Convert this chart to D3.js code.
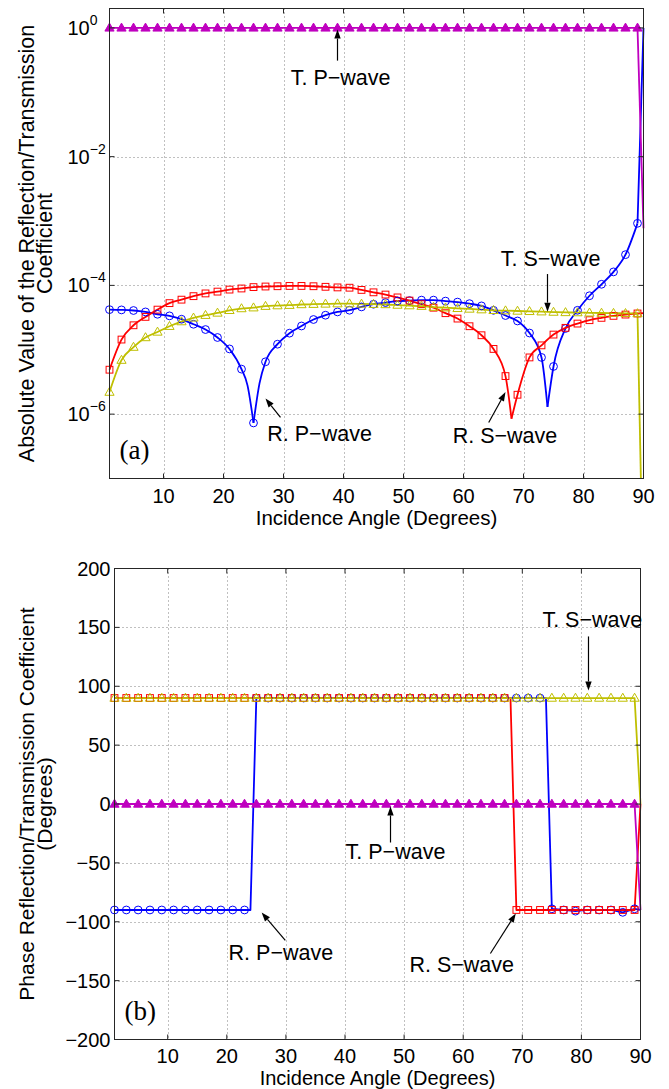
<!DOCTYPE html>
<html>
<head>
<meta charset="utf-8">
<script src="https://cdn.jsdelivr.net/npm/d3@7/dist/d3.min.js"></script>
<style>
  html, body { margin: 0; padding: 0; background: #fff; }
  svg text { font-family: "Liberation Sans", Arial, Helvetica, sans-serif; fill: #000; }
</style>
</head>
<body>
<svg id="fig" width="669" height="1089"></svg>
<script>
// ---------------------------------------------------------------------------
// Incidence angles (degrees) at which the marker symbols are plotted
const markerAngles = [1,3,5,7,9,11,13,15,17,19,21,23,25,27,29,31,33,35,37,39,41,43,45,
                      47,49,51,53,55,57,59,61,63,65,67,69,71,73,75,77,79,81,83,85,87,89];

// (a) absolute value of the coefficients at the marker angles
const ampRP = [4.2e-5,4.16e-5,4.07e-5,3.87e-5,3.56e-5,3.36e-5,2.98e-5,2.49e-5,2.06e-5,1.55e-5,
               1.03e-5,5.0e-6,7.3e-7,6.5e-6,1.22e-5,1.81e-5,2.34e-5,2.95e-5,3.44e-5,3.87e-5,
               4.11e-5,4.63e-5,5.1e-5,5.4e-5,5.7e-5,5.8e-5,5.9e-5,5.9e-5,5.7e-5,5.5e-5,
               5.2e-5,4.8e-5,4.1e-5,3.4e-5,2.8e-5,1.82e-5,7.6e-6,5.5e-6,2.14e-5,4.1e-5,
               6.9e-5,1.04e-4,1.62e-4,3.0e-4,9.2e-4];
const ampRS = [4.9e-6,1.44e-5,2.4e-5,3.24e-5,4.2e-5,5.3e-5,6.0e-5,6.8e-5,7.5e-5,8.0e-5,
               8.6e-5,8.95e-5,9.4e-5,9.6e-5,9.7e-5,9.8e-5,9.8e-5,9.7e-5,9.5e-5,9.3e-5,
               9.2e-5,8.5e-5,7.8e-5,7.2e-5,6.5e-5,5.8e-5,5.1e-5,4.5e-5,3.7e-5,3.05e-5,
               2.32e-5,1.68e-5,1.03e-5,3.9e-6,2.0e-6,7.6e-6,1.17e-5,1.72e-5,2.19e-5,2.55e-5,
               2.88e-5,3.13e-5,3.36e-5,3.52e-5,3.66e-5];
const ampTS = [2.2e-6,6.9e-6,1.1e-5,1.55e-5,1.89e-5,2.32e-5,2.74e-5,3.13e-5,3.44e-5,3.73e-5,
               4.1e-5,4.37e-5,4.5e-5,4.75e-5,4.85e-5,4.92e-5,5.05e-5,5.1e-5,5.15e-5,5.2e-5,
               5.2e-5,5.15e-5,5.1e-5,5.05e-5,4.95e-5,4.85e-5,4.75e-5,4.6e-5,4.5e-5,4.4e-5,
               4.3e-5,4.2e-5,4.1e-5,4.05e-5,4.0e-5,3.95e-5,3.9e-5,3.85e-5,3.8e-5,3.78e-5,
               3.75e-5,3.72e-5,3.7e-5,3.68e-5,3.66e-5];
const ampTP = [1,1,1,1,1,1,1,1,1,1,1,1,1,1,1,1,1,1,1,1,1,1,1,
               1,1,1,1,1,1,1,1,1,1,1,1,1,1,1,1,1,1,1,1,1,1];

// extra curve vertices between the markers, [angle, value]
const ampRPExtra = [[24,2.8e-6],[26,3.0e-6],[74,1.3e-6],[90,1.0]];
const ampRSExtra = [[68,8.5e-7],[90,3.7e-5]];
const ampTSExtra = [[90,1e-9]];
const ampTPExtra = [[90,7.7e-4]];

// angles where a curve turns sharply (drawn as a corner, not smoothed)
const ampRPCusps = [25,74,89];
const ampRSCusps = [68];
const ampTSCusps = [89];
const ampTPCusps = [89];

// (b) phase of the coefficients (degrees) at the marker angles
const phaseRP = [-90,-90,-90,-90,-90,-90,-90,-90,-90,-90,-90,-90,
                 90,90,90,90,90,90,90,90,90,90,90,90,90,90,90,90,90,90,90,90,90,90,90,90,90,
                 -89,-90,-91,-90,-90,-90,-92,-89];
const phaseRS = [90,90,90,90,90,90,90,90,90,90,90,90,90,90,90,90,90,
                 90,90,90,90,90,90,90,90,90,90,90,90,90,90,90,90,90,
                 -90,-90,-90,-90,-90,-90,-90,-90,-90,-90,-90];
const phaseTS = [90,90,90,90,90,90,90,90,90,90,90,90,90,90,90,90,90,90,90,90,90,90,90,
                 90,90,90,90,90,90,90,90,90,90,90,90,90,90,90,90,90,90,90,90,90,90];
const phaseTP = [0,0,0,0,0,0,0,0,0,0,0,0,0,0,0,0,0,0,0,0,0,0,0,
                 0,0,0,0,0,0,0,0,0,0,0,0,0,0,0,0,0,0,0,0,0,0];
const phaseRPExtra = [[24,-90],[74,90],[90,-90]];
const phaseRSExtra = [[68,90],[90,0]];
const phaseTSExtra = [[90,0]];
const phaseTPExtra = [[90,-90]];

// axis ticks
const angleTicks = [10,20,30,40,50,60,70,80,90];
const ampTicks = [1e0,1e-2,1e-4,1e-6];
const ampTickExponents = ["0","\u22122","\u22124","\u22126"];
const phaseTicks = [-200,-150,-100,-50,0,50,100,150,200];
const phaseTickLabels = ["\u2212200","\u2212150","\u2212100","\u221250","0","50","100","150","200"];

// annotation labels: text anchor and arrow (tail -> tip) in data units
const ampNotes = [
  {text:"T. P\u2212wave", at:[31.2,0.13],   from:[39,0.31],    to:[39,0.94]},
  {text:"T. S\u2212wave", at:[66.2,2.0e-4], from:[74,1.5e-4],  to:[74,3.9e-5]},
  {text:"R. P\u2212wave", at:[27.3,3.8e-7], from:[29.5,8.9e-7],to:[27,1.75e-6]},
  {text:"R. S\u2212wave", at:[58.2,3.6e-7], from:[64.2,7.4e-7],to:[67,2.2e-6]}
];
const phaseNotes = [
  {text:"T. S\u2212wave", at:[73.4,150.7],  from:[81.2,142.3], to:[81.2,96.4]},
  {text:"T. P\u2212wave", at:[40.1,-47.1],  from:[47.7,-32.7], to:[47.7,-2.1]},
  {text:"R. P\u2212wave", at:[20.3,-132.9], from:[29.9,-115.9],to:[25.9,-92.1]},
  {text:"R. S\u2212wave", at:[50.9,-142.3], from:[64.6,-127],  to:[68.9,-93]}
];

// ---------------------------------------------------------------------------
const COLOR = {rp:"#0000ff", rs:"#ff0000", tp:"#bf00bf", ts:"#bfbf00"};
const svg = d3.select("#fig");

function buildPoints(vals, extra) {
  const pts = markerAngles.map((a, i) => [a, vals[i]]).concat(extra);
  pts.sort((p, q) => p[0] - q[0]);
  return pts;
}
function splitAtCusps(pts, cusps) {
  const segs = [];
  let cur = [];
  pts.forEach(p => {
    cur.push(p);
    if (cusps.includes(p[0]) && cur.length > 1) { segs.push(cur); cur = [p]; }
  });
  if (cur.length > 1) segs.push(cur);
  return segs;
}

function drawMarker(g, kind, color, cx, cy) {
  if (kind === "circle") {
    g.append("circle").attr("cx", cx).attr("cy", cy).attr("r", 3.9)
      .attr("fill", "none").attr("stroke", color).attr("stroke-width", 1);
  } else if (kind === "square") {
    g.append("rect").attr("x", cx - 3.4).attr("y", cy - 3.4).attr("width", 6.8).attr("height", 6.8)
      .attr("fill", "none").attr("stroke", color).attr("stroke-width", 1);
  } else {
    const p = `M${cx},${cy - 4.8}L${cx + 4.6},${cy + 3.2}L${cx - 4.6},${cy + 3.2}Z`;
    g.append("path").attr("d", p)
      .attr("fill", kind === "trifill" ? color : "none")
      .attr("stroke", color).attr("stroke-width", 1);
  }
}

function drawArrow(g, x1, y1, x2, y2) {
  const ang = Math.atan2(y2 - y1, x2 - x1);
  const hl = 9, hw = 3.2;
  const bx = x2 - hl * Math.cos(ang), by = y2 - hl * Math.sin(ang);
  g.append("line").attr("x1", x1).attr("y1", y1).attr("x2", bx).attr("y2", by)
    .attr("stroke", "#000").attr("stroke-width", 1.2);
  const px = -Math.sin(ang) * hw, py = Math.cos(ang) * hw;
  g.append("path")
    .attr("d", `M${x2},${y2}L${bx + px},${by + py}L${bx - px},${by - py}Z`)
    .attr("fill", "#000");
}

function drawPanel(opt) {
  const b = opt.box;
  const g = svg.append("g");
  const x = d3.scaleLinear().domain([1, 90]).range([b.left, b.right]);
  const y = opt.y;

  // dotted grid
  const grid = g.append("g").attr("stroke", "#808080").attr("stroke-width", 1)
    .attr("stroke-dasharray", "1,3");
  angleTicks.filter(t => x(t) < b.right - 1).forEach(t => {
    grid.append("line").attr("x1", Math.round(x(t)) + 0.5).attr("x2", Math.round(x(t)) + 0.5)
      .attr("y1", b.top).attr("y2", b.bottom);
  });
  opt.yTicks.filter(t => y(t) > b.top + 1 && y(t) < b.bottom - 1).forEach(t => {
    grid.append("line").attr("y1", Math.round(y(t)) + 0.5).attr("y2", Math.round(y(t)) + 0.5)
      .attr("x1", b.left).attr("x2", b.right);
  });

  // curves, clipped to the axes area
  const clipId = "clip-" + opt.id;
  svg.append("defs").append("clipPath").attr("id", clipId).append("rect")
    .attr("x", b.left - 3).attr("y", b.top).attr("width", b.right - b.left + 6)
    .attr("height", b.bottom - b.top);
  const lines = g.append("g").attr("clip-path", `url(#${clipId})`);
  const line = d3.line().x(d => x(d[0])).y(d => y(d[1])).curve(opt.curve);
  opt.series.forEach(s => {
    const pts = buildPoints(s.vals, s.extra);
    const segs = s.cusps ? splitAtCusps(pts, s.cusps) : [pts];
    segs.forEach(seg => {
      lines.append("path").attr("d", line(seg)).attr("fill", "none")
        .attr("stroke", COLOR[s.key]).attr("stroke-width", 1.8)
        .attr("stroke-linejoin", "round");
    });
  });
  // markers
  opt.series.forEach(s => {
    const mg = g.append("g");
    markerAngles.forEach((a, i) => drawMarker(mg, s.marker, COLOR[s.key], x(a), y(s.vals[i])));
  });

  // axes box with inward ticks
  const ax = g.append("g").attr("stroke", "#262626").attr("stroke-width", 1);
  ax.append("rect").attr("x", b.left).attr("y", b.top)
    .attr("width", b.right - b.left).attr("height", b.bottom - b.top).attr("fill", "none");
  const tl = 5;
  angleTicks.forEach(t => {
    const px = x(t);
    ax.append("line").attr("x1", px).attr("x2", px).attr("y1", b.bottom).attr("y2", b.bottom - tl);
    ax.append("line").attr("x1", px).attr("x2", px).attr("y1", b.top).attr("y2", b.top + tl);
  });
  opt.yTicks.forEach(t => {
    const py = y(t);
    ax.append("line").attr("x1", b.left).attr("x2", b.left + tl).attr("y1", py).attr("y2", py);
    ax.append("line").attr("x1", b.right).attr("x2", b.right - tl).attr("y1", py).attr("y2", py);
  });

  // x tick labels
  angleTicks.forEach(t => {
    g.append("text").attr("x", x(t)).attr("y", b.bottom + opt.xTickDy)
      .attr("text-anchor", "middle").attr("font-size", opt.fs).text(t);
  });
  // y tick labels
  opt.yTicks.forEach((t, i) => opt.yLabel(g, t, i, y(t)));

  // axis titles
  g.append("text").attr("x", (b.left + b.right) / 2).attr("y", b.bottom + opt.xTitleDy)
    .attr("text-anchor", "middle").attr("font-size", opt.titleFs).text("Incidence Angle (Degrees)");
  const cy = (b.top + b.bottom) / 2;
  opt.yTitle.forEach((txt, i) => {
    g.append("text").attr("transform", `translate(${opt.yTitleX[i]},${cy}) rotate(-90)`)
      .attr("text-anchor", "middle").attr("font-size", opt.yTitleFs).text(txt);
  });

  // panel tag
  g.append("text").attr("x", b.left + 10).attr("y", b.bottom - opt.tagDy)
    .style("font-family", "'Liberation Serif', 'Times New Roman', serif")
    .attr("font-size", 27).text(opt.tag);

  // annotations
  opt.notes.forEach(n => {
    g.append("text").attr("x", x(n.at[0])).attr("y", y(n.at[1]))
      .attr("font-size", opt.noteFs).text(n.text);
    drawArrow(g, x(n.from[0]), y(n.from[1]), x(n.to[0]), y(n.to[1]));
  });
}

// (a) magnitude panel
const boxA = {left: 109.5, right: 643.5, top: 8.5, bottom: 478.5};
drawPanel({
  id: "a", tag: "(a)", box: boxA,
  y: d3.scaleLog().domain([1e-7, 2]).range([boxA.bottom, boxA.top]),
  yTicks: ampTicks,
  yLabel: (g, t, i, py) => {
    const tx = g.append("text").attr("x", boxA.left - 42).attr("y", py + 7).attr("font-size", 20);
    tx.append("tspan").text("10");
    tx.append("tspan").attr("dy", -10).attr("font-size", 14).text(ampTickExponents[i]);
  },
  series: [
    {key:"rp", vals:ampRP, extra:ampRPExtra, cusps:ampRPCusps, marker:"circle"},
    {key:"rs", vals:ampRS, extra:ampRSExtra, cusps:ampRSCusps, marker:"square"},
    {key:"tp", vals:ampTP, extra:ampTPExtra, cusps:ampTPCusps, marker:"trifill"},
    {key:"ts", vals:ampTS, extra:ampTSExtra, cusps:ampTSCusps, marker:"triangle"}
  ],
  curve: d3.curveMonotoneX,
  notes: ampNotes,
  fs: 20, titleFs: 20.5, yTitleFs: 21.5, noteFs: 21.5,
  xTickDy: 24, xTitleDy: 46,
  yTitle: ["Absolute Value of the Reflection/Transmission", "Coefficient"],
  yTitleX: [34, 52],
  tagDy: 20
});

// (b) phase panel
const boxB = {left: 114.5, right: 640.5, top: 568.5, bottom: 1039.5};
drawPanel({
  id: "b", tag: "(b)", box: boxB,
  y: d3.scaleLinear().domain([-200, 200]).range([boxB.bottom, boxB.top]),
  yTicks: phaseTicks,
  yLabel: (g, t, i, py) => {
    g.append("text").attr("x", boxB.left - 4).attr("y", py + 7).attr("text-anchor", "end")
      .attr("font-size", 20).text(phaseTickLabels[i]);
  },
  series: [
    {key:"rp", vals:phaseRP, extra:phaseRPExtra, marker:"circle"},
    {key:"rs", vals:phaseRS, extra:phaseRSExtra, marker:"square"},
    {key:"tp", vals:phaseTP, extra:phaseTPExtra, marker:"trifill"},
    {key:"ts", vals:phaseTS, extra:phaseTSExtra, marker:"triangle"}
  ],
  curve: d3.curveLinear,
  notes: phaseNotes,
  fs: 20, titleFs: 20, yTitleFs: 21, noteFs: 21.5,
  xTickDy: 23, xTitleDy: 45.5,
  yTitle: ["Phase Reflection/Transmission Coefficient", "(Degrees)"],
  yTitleX: [34, 52],
  tagDy: 20
});
</script>
</body>
</html>
